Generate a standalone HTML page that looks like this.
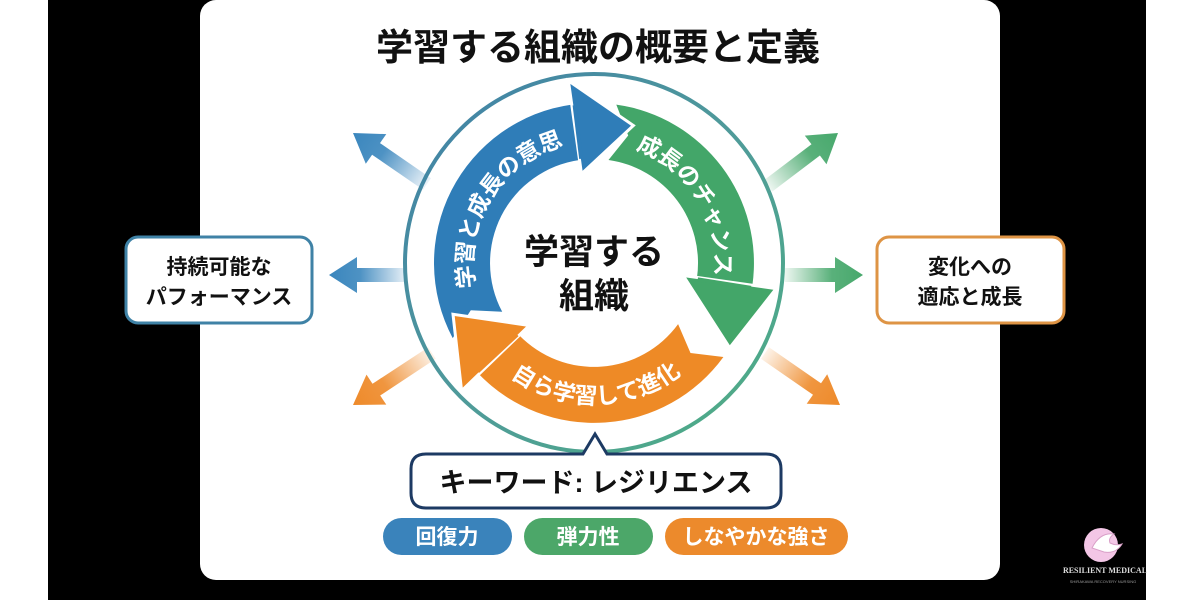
<!DOCTYPE html>
<html><head><meta charset="utf-8"><style>
html,body{margin:0;padding:0;background:#fff;}
svg{display:block;font-family:"Liberation Sans","Noto Sans CJK JP",sans-serif;}
</style></head><body>
<svg id="s" width="1200" height="600" viewBox="0 0 1200 600" xmlns="http://www.w3.org/2000/svg">
<defs>
<linearGradient id="ring" x1="0" y1="0" x2="1" y2="1">
<stop offset="0" stop-color="#3f7fa8"/><stop offset="0.5" stop-color="#4f9a9a"/><stop offset="0.85" stop-color="#4ea98a"/><stop offset="1" stop-color="#9a9a5a"/></linearGradient>
</defs>
<rect x="0" y="0" width="1200" height="600" fill="#fff"/>
<rect x="48" y="0" width="1098" height="600" fill="#000"/>
<rect x="200" y="0" width="800" height="580" rx="16" fill="#fff"/>
<text x="598" y="60" text-anchor="middle" font-size="37" font-weight="bold" fill="#111">学習する組織の概要と定義</text>
<g id="side"></g>
<circle cx="594" cy="263" r="189" fill="none" stroke="url(#ring)" stroke-width="4"/>
<g id="arcs"></g>
<text x="594" y="264" text-anchor="middle" font-size="35" font-weight="bold" fill="#111">学習する</text>
<text x="594" y="308" text-anchor="middle" font-size="35" font-weight="bold" fill="#111">組織</text>
<rect x="126" y="237" width="186" height="86" rx="12" fill="#fff" stroke="#3f82a6" stroke-width="3"/>
<text x="219" y="274" text-anchor="middle" font-size="21" font-weight="bold" fill="#111">持続可能な</text>
<text x="219" y="304" text-anchor="middle" font-size="21" font-weight="bold" fill="#111">パフォーマンス</text>
<rect x="877" y="237" width="187" height="86" rx="12" fill="#fff" stroke="#de9445" stroke-width="3"/>
<text x="970" y="274" text-anchor="middle" font-size="21" font-weight="bold" fill="#111">変化への</text>
<text x="970" y="304" text-anchor="middle" font-size="21" font-weight="bold" fill="#111">適応と成長</text>
<path d="M426,454 L583,454 L595,434 L607,454 L766,454 Q781,454 781,469 L781,493 Q781,508 766,508 L426,508 Q411,508 411,493 L411,469 Q411,454 426,454 Z" fill="#fff" stroke="#1d3a63" stroke-width="3"/>
<text x="596" y="492" text-anchor="middle" font-size="27" font-weight="bold" fill="#111">キーワード: レジリエンス</text>
<rect x="383" y="518" width="129" height="37" rx="18.5" fill="#3a83bb"/>
<text x="447" y="544" text-anchor="middle" font-size="21" font-weight="bold" fill="#fff">回復力</text>
<rect x="524" y="518" width="129" height="37" rx="18.5" fill="#4ca769"/>
<text x="588" y="544" text-anchor="middle" font-size="21" font-weight="bold" fill="#fff">弾力性</text>
<rect x="665" y="518" width="183" height="37" rx="18.5" fill="#ec8a2c"/>
<text x="756" y="544" text-anchor="middle" font-size="21" font-weight="bold" fill="#fff">しなやかな強さ</text>
<circle cx="1101" cy="545" r="17" fill="#f3c6e6"/>
<path d="M1092,548 q8,-16 22,-14 q-6,4 -4,9 q6,3 12,1 q-6,10 -18,8 z" fill="#fff" stroke="#d9a0c8" stroke-width="1"/>
<text x="1105" y="573" text-anchor="middle" font-size="8" font-family="Liberation Serif,serif" fill="#ddd" font-weight="bold">RESILIENT MEDICAL</text>
<text x="1103" y="583" text-anchor="middle" font-size="4" fill="#999">SHIRAKAWA RECOVERY NURSING</text>
</svg>
<script>
var NS="http://www.w3.org/2000/svg",cx=594,cy=263;
function P(r,t){t=t*Math.PI/180;return (cx+r*Math.sin(t)).toFixed(1)+","+(cy-r*Math.cos(t)).toFixed(1);}
function el(tag,attrs,parent,txt){var e=document.createElementNS(NS,tag);for(var k in attrs)e.setAttribute(k,attrs[k]);if(txt)e.textContent=txt;parent.appendChild(e);return e;}
var arcs=document.getElementById("arcs"),defs=document.querySelector("defs");
var ri=104,ro=160,hi=90,ho=184,hl=24;
var A=[{c:"#2f7db8",a1:-118,tip:16,tr:143},{c:"#43a669",a1:8,tip:122,tr:160},{c:"#ee8a26",a1:126,tip:250,tr:150}];
A.forEach(function(a){var a2=a.tip-hl,lg=(a2-a.a1)>180?1:0;
el("path",{d:"M"+P(ro,a.a1)+" A"+ro+","+ro+" 0 "+lg+" 1 "+P(ro,a2)+" L"+P(ri,a2)+" A"+ri+","+ri+" 0 "+lg+" 0 "+P(ri,a.a1)+" L"+P(132,a.a1+7)+" Z",fill:a.c},arcs);});
A.forEach(function(a){var a2=a.tip-hl;
el("path",{d:"M"+P(ho,a2)+" L"+P(a.tr,a.tip)+" L"+P(hi,a2)+" Z",fill:a.c,stroke:"#fff","stroke-width":3,"stroke-linejoin":"miter"},arcs);
el("path",{d:"M"+P(ro-1,a2+1)+" L"+P(ri+1,a2+1),stroke:a.c,"stroke-width":4},arcs);});
var T=[{id:"tb",r:121,a1:-118,a2:2,sw:1,t:"学習と成長の意思"},{id:"tg",r:121,a1:-2,a2:118,sw:1,t:"成長のチャンス"},{id:"to",r:141,a1:239,a2:119,sw:0,t:"自ら学習して進化"}];
T.forEach(function(o){el("path",{id:o.id,d:"M"+P(o.r,o.a1)+" A"+o.r+","+o.r+" 0 0 "+o.sw+" "+P(o.r,o.a2),fill:"none"},defs);
var t=el("text",{"font-size":23,"font-weight":"bold",fill:"#fff"},arcs);
el("textPath",{href:"#"+o.id,startOffset:"50%","text-anchor":"middle"},t,o.t);});
var side=document.getElementById("side");
var S=[[427,184,353,133,"#3a86bd"],[407,275,329,275,"#3a86bd"],[432,353,353,405,"#ee8a2a"],[768,186,838,133,"#47a86c"],[785,275,863,275,"#47a86c"],[765,353,840,405,"#ee8a2a"]];
S.forEach(function(s,i){var x1=s[0],y1=s[1],x2=s[2],y2=s[3],dx=x2-x1,dy=y2-y1,L=Math.hypot(dx,dy),ux=dx/L,uy=dy/L,nx=-uy,ny=ux,hl=28,w=7,hw=18;
var g=el("linearGradient",{id:"g"+i,gradientUnits:"userSpaceOnUse",x1:x1,y1:y1,x2:x2,y2:y2},defs);
el("stop",{offset:0,"stop-color":s[4],"stop-opacity":0.1},g);el("stop",{offset:0.6,"stop-color":s[4],"stop-opacity":0.9},g);el("stop",{offset:1,"stop-color":s[4]},g);
var bx=x2-ux*hl,by=y2-uy*hl;function q(x,y){return x.toFixed(1)+","+y.toFixed(1);}
el("path",{d:"M"+q(x1+nx*w,y1+ny*w)+" L"+q(bx+nx*w,by+ny*w)+" L"+q(bx+nx*hw,by+ny*hw)+" L"+q(x2,y2)+" L"+q(bx-nx*hw,by-ny*hw)+" L"+q(bx-nx*w,by-ny*w)+" L"+q(x1-nx*w,y1-ny*w)+" Z",fill:"url(#g"+i+")"},side);});
</script>
</body></html>
